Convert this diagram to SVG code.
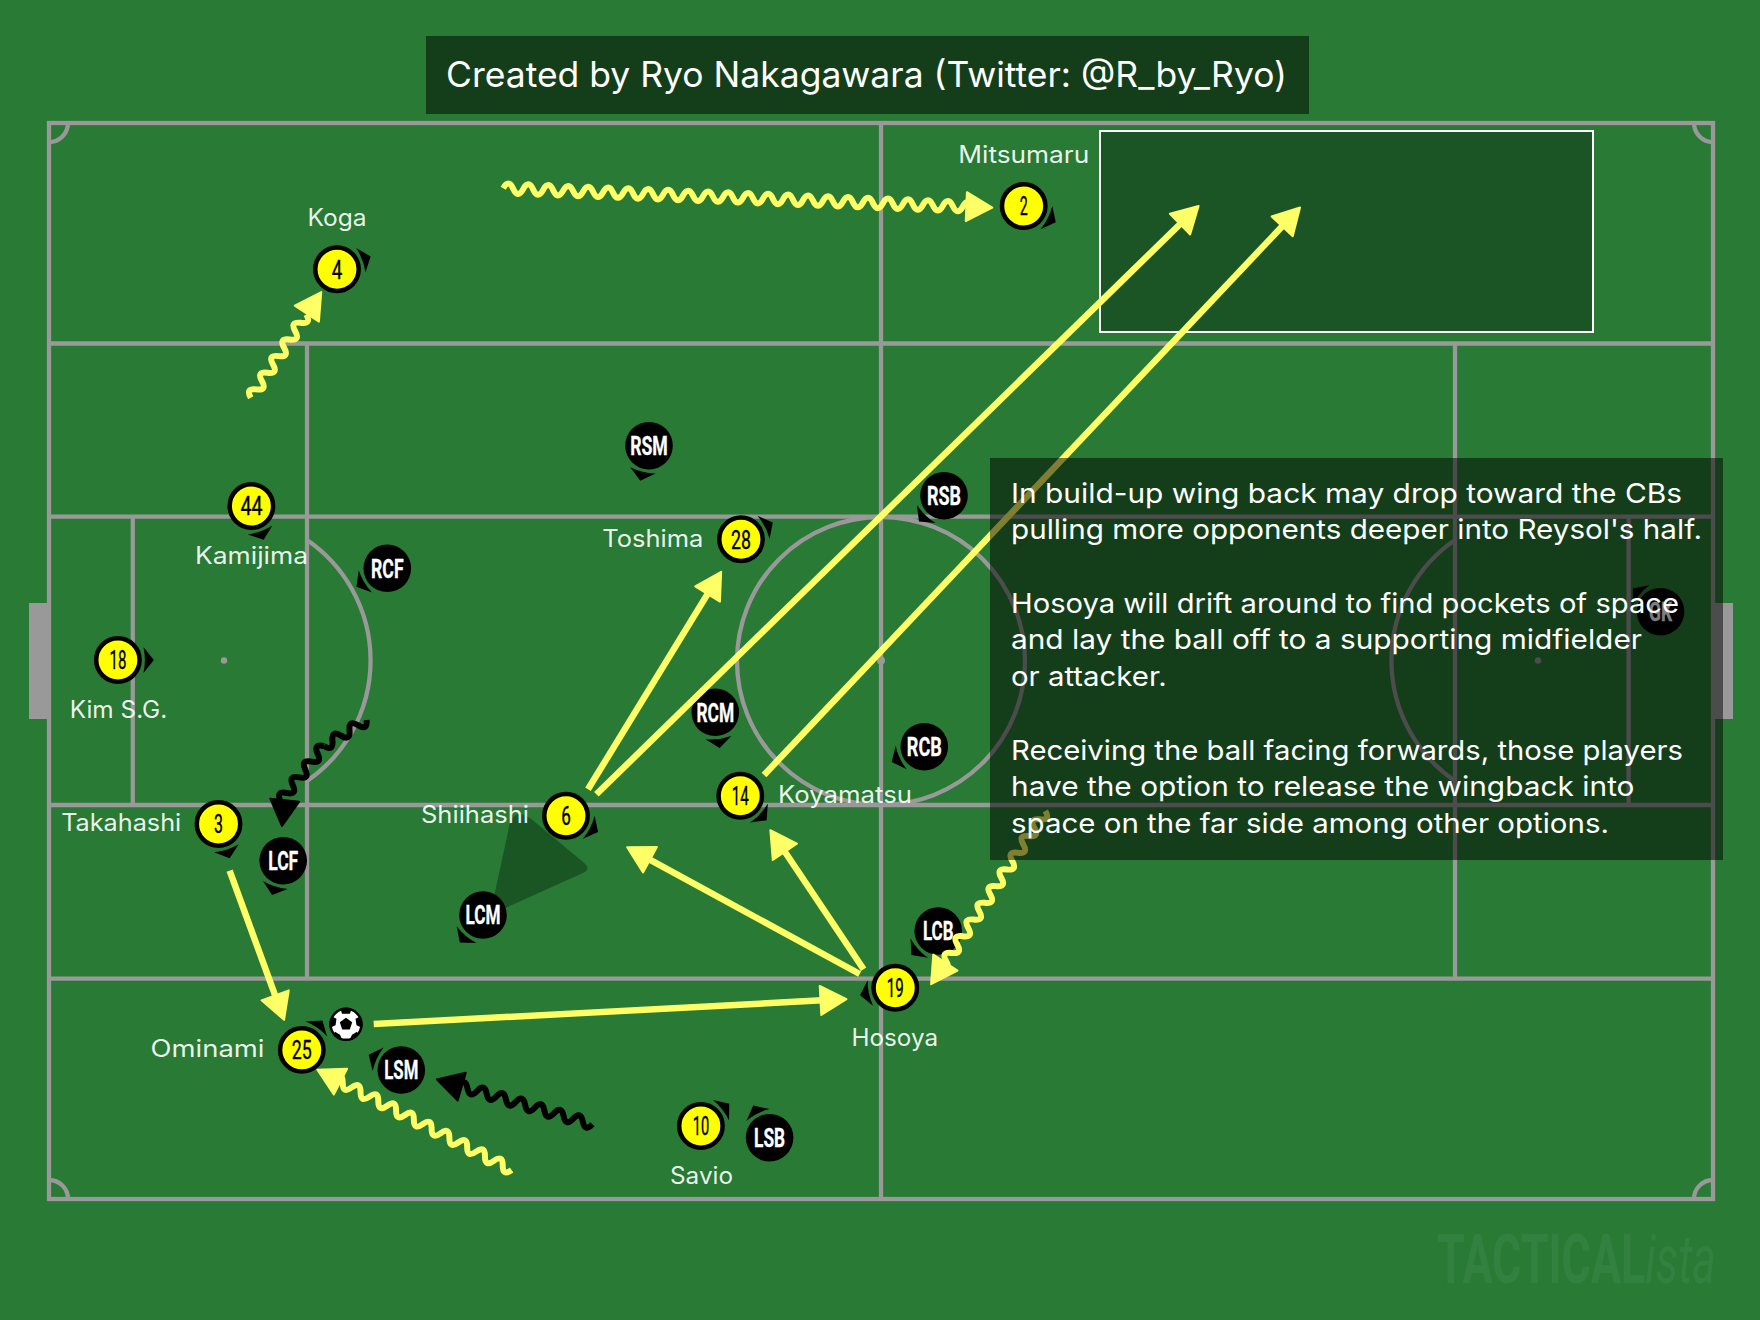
<svg xmlns="http://www.w3.org/2000/svg" width="1760" height="1320" viewBox="0 0 1760 1320">
<style>
.ln{fill:none;stroke:#999;stroke-width:4.3}
.gl{fill:#999}
.lab{font-family:Inter,"Liberation Sans",sans-serif;font-size:24px;fill:#fff;fill-opacity:.92}
.txt{font-family:Inter,"Liberation Sans",sans-serif;font-size:27.5px;fill:#fff}
.num{font-family:"Liberation Sans Narrow",Roboto,"Liberation Sans",sans-serif;font-size:26px;text-anchor:middle;fill:#000;stroke:#000;stroke-width:.35}
.opp{font-family:"Liberation Sans Narrow",Roboto,"Liberation Sans",sans-serif;font-size:26px;font-weight:700;text-anchor:middle;fill:#fff;stroke:#fff;stroke-width:.3}
.yc{fill:#ff0;stroke:#000;stroke-width:4.5}
.bc{fill:#000}
.st{stroke:#ff6;stroke-width:6.5;fill:none;marker-end:url(#ah)}
.wy{stroke:#ff6;stroke-width:6;fill:none}
.wb{stroke:#000;stroke-width:6;fill:none}
.hy{fill:#ff6;stroke:#ff6;stroke-width:2;stroke-linejoin:round}
.hb{fill:#000;stroke:#000;stroke-width:2;stroke-linejoin:round}
.wm{font-family:Roboto,"Liberation Sans",sans-serif;font-size:69px;fill:#fff;fill-opacity:.055}
</style>
<defs>
<path id="o" d="M25.5 -13L36 0L25.5 13Q28.5 0 25.5 -13Z" fill="#000"/>
<path id="hd" d="M-26 -14.5L0 0L-26 14.5Z"/>
<marker id="ah" markerUnits="userSpaceOnUse" markerWidth="40" markerHeight="40" viewBox="0 0 40 40" refX="9" refY="20" orient="auto">
<path d="M3 5.5L29 20L3 34.5Z" fill="#ff6" stroke="#ff6" stroke-width="2" stroke-linejoin="round"/>
</marker>
<clipPath id="bc"><circle cx="0" cy="0" r="16.5"/></clipPath>
</defs>
<rect id="bg" width="1760" height="1320" fill="#287a35"/>
<g id="pitch">
<rect class="gl" x="29" y="603" width="20" height="116"/>
<rect class="gl" x="1713" y="603" width="20" height="116"/>
<rect class="ln" x="49" y="123" width="1664" height="1076"/>
<path class="ln" d="M881 123V1199M49 343.5H1713M49 516.7H1713M49 805H1713M49 978.7H1713"/>
<path class="ln" d="M307 343.5V978.7M1455 343.5V978.7M132.8 516.7V805M1628.6 516.7V805"/>
<circle class="ln" cx="881" cy="661" r="144"/>
<path class="ln" d="M307 540A146 146 0 0 1 307 781M1455 540A146 146 0 0 0 1455 781"/>
<path class="ln" d="M49 142A19 19 0 0 0 68 123M1694 123A19 19 0 0 0 1713 142M49 1180A19 19 0 0 1 68 1199M1694 1199A19 19 0 0 1 1713 1180"/>
<circle class="gl" cx="224" cy="660.5" r="3.2"/>
<circle class="gl" cx="881" cy="660.5" r="4"/>
<circle class="gl" cx="1538" cy="660.5" r="3.2"/>
</g>
<text class="wm" font-weight="700" x="1437" y="1283" textLength="279" lengthAdjust="spacingAndGlyphs">TACTICAL<tspan font-style="italic" font-weight="400">ista</tspan></text>
<rect id="title-box" x="426" y="36" width="883" height="78" fill="#000" fill-opacity=".5"/>
<text id="title" x="446" y="86.5" font-family="Inter,'Liberation Sans',sans-serif" font-size="35" fill="#fff" textLength="841" lengthAdjust="spacingAndGlyphs">Created by Ryo Nakagawara (Twitter: @R_by_Ryo)</text>
<rect id="highlight" x="1100" y="131" width="493" height="201" fill="#000" fill-opacity=".3" stroke="#fff" stroke-width="2"/>
<path id="cover" d="M490 915L508 832Q511 806 530 818L583 862Q592 869 583 873Z" fill="#1a5623"/>
<g id="nodes">
<g id="n2" transform="translate(1023.7,206)"><use href="#o" transform="rotate(27)"/><circle class="yc" r="21.7"/><text class="num" y="9.3" textLength="8" lengthAdjust="spacingAndGlyphs">2</text></g>
<g id="n4" transform="translate(337,269.3)"><use href="#o" transform="rotate(-21)"/><circle class="yc" r="21.7"/><text class="num" y="9.3" textLength="10.5" lengthAdjust="spacingAndGlyphs">4</text></g>
<g id="n44" transform="translate(251.4,506)"><use href="#o" transform="rotate(70)"/><circle class="yc" r="21.7"/><text class="num" y="9.3" textLength="22" lengthAdjust="spacingAndGlyphs">44</text></g>
<g id="n18" transform="translate(117.9,660)"><use href="#o" transform="rotate(0)"/><circle class="yc" r="21.7"/><text class="num" y="9.3" textLength="17" lengthAdjust="spacingAndGlyphs">18</text></g>
<g id="n3" transform="translate(218.5,824)"><use href="#o" transform="rotate(72)"/><circle class="yc" r="21.7"/><text class="num" y="9.3" textLength="9" lengthAdjust="spacingAndGlyphs">3</text></g>
<g id="n6" transform="translate(566,815.7)"><use href="#o" transform="rotate(27)"/><circle class="yc" r="21.7"/><text class="num" y="9.3" textLength="9.6" lengthAdjust="spacingAndGlyphs">6</text></g>
<g id="n14" transform="translate(740.3,795.7)"><use href="#o" transform="rotate(43)"/><circle class="yc" r="21.7"/><text class="num" y="9.3" textLength="17" lengthAdjust="spacingAndGlyphs">14</text></g>
<g id="n19" transform="translate(895.3,987.7)"><use href="#o" transform="rotate(168)"/><circle class="yc" r="21.7"/><text class="num" y="9.3" textLength="17" lengthAdjust="spacingAndGlyphs">19</text></g>
<g id="n28" transform="translate(741,539.3)"><use href="#o" transform="rotate(-28)"/><circle class="yc" r="21.7"/><text class="num" y="9.3" textLength="20" lengthAdjust="spacingAndGlyphs">28</text></g>
<g id="n25" transform="translate(301.8,1049.9)"><use href="#o" transform="rotate(-55)"/><circle class="yc" r="21.7"/><text class="num" y="9.3" textLength="20" lengthAdjust="spacingAndGlyphs">25</text></g>
<g id="n10" transform="translate(700.9,1126)"><use href="#o" transform="rotate(-38)"/><circle class="yc" r="21.7"/><text class="num" y="9.3" textLength="16.5" lengthAdjust="spacingAndGlyphs">10</text></g>
<g id="RSM" transform="translate(649,445.7)"><use href="#o" transform="rotate(104)"/><circle class="bc" r="23.8"/><text class="opp" y="9.3" textLength="37.7" lengthAdjust="spacingAndGlyphs">RSM</text></g>
<g id="RSB" transform="translate(944,495.7)"><use href="#o" transform="rotate(134)"/><circle class="bc" r="23.8"/><text class="opp" y="9.3" textLength="34" lengthAdjust="spacingAndGlyphs">RSB</text></g>
<g id="RCM" transform="translate(715.3,712.3)"><use href="#o" transform="rotate(83)"/><circle class="bc" r="23.8"/><text class="opp" y="9.3" textLength="37.7" lengthAdjust="spacingAndGlyphs">RCM</text></g>
<g id="RCB" transform="translate(924.3,746.7)"><use href="#o" transform="rotate(155)"/><circle class="bc" r="23.8"/><text class="opp" y="9.3" textLength="35" lengthAdjust="spacingAndGlyphs">RCB</text></g>
<g id="RCF" transform="translate(387.3,568.3)"><use href="#o" transform="rotate(149)"/><circle class="bc" r="23.8"/><text class="opp" y="9.3" textLength="32.5" lengthAdjust="spacingAndGlyphs">RCF</text></g>
<g id="LCF" transform="translate(283.2,860.7)"><use href="#o" transform="rotate(108)"/><circle class="bc" r="23.8"/><text class="opp" y="9.3" textLength="30" lengthAdjust="spacingAndGlyphs">LCF</text></g>
<g id="LCM" transform="translate(483,915)"><use href="#o" transform="rotate(130)"/><circle class="bc" r="23.8"/><text class="opp" y="9.3" textLength="35" lengthAdjust="spacingAndGlyphs">LCM</text></g>
<g id="LSM" transform="translate(401.3,1070)"><use href="#o" transform="rotate(-155)"/><circle class="bc" r="23.8"/><text class="opp" y="9.3" textLength="34" lengthAdjust="spacingAndGlyphs">LSM</text></g>
<g id="LSB" transform="translate(769.6,1137.7)"><use href="#o" transform="rotate(-117)"/><circle class="bc" r="23.8"/><text class="opp" y="9.3" textLength="31" lengthAdjust="spacingAndGlyphs">LSB</text></g>
<g id="LCB" transform="translate(938.2,931)"><use href="#o" transform="rotate(138)"/><circle class="bc" r="23.8"/><text class="opp" y="9.3" textLength="30.6" lengthAdjust="spacingAndGlyphs">LCB</text></g>
<g id="GK" transform="translate(1660.5,611.7)"><use href="#o" transform="rotate(-140)"/><circle class="bc" r="23.8"/><text class="opp" y="9.3" textLength="23" lengthAdjust="spacingAndGlyphs">GK</text></g>
<g id="ball" transform="translate(346,1024.3)"><circle r="15.5" fill="#fff" stroke="#000" stroke-width="2.5"/><g clip-path="url(#bc)" fill="#000"><path d="M0 -6.5L6.2 -2L3.8 5.3L-3.8 5.3L-6.2 -2Z"/><path d="M-6 -17L6 -17L4 -10.5L-4 -10.5Z"/><path d="M17 -9L17 4L10.5 1L9.5 -5.5Z"/><path d="M14 14L3 17L6 10.5L11 7.5Z"/><path d="M-14 14L-3 17L-6 10.5L-11 7.5Z"/><path d="M-17 -9L-17 4L-10.5 1L-9.5 -5.5Z"/></g></g>
</g>
<g id="labels">
<text class="lab" text-anchor="middle" x="337" y="226" textLength="59" lengthAdjust="spacingAndGlyphs">Koga</text>
<text class="lab" x="958.3" y="162.7" textLength="131" lengthAdjust="spacingAndGlyphs">Mitsumaru</text>
<text class="lab" x="195" y="564" textLength="113" lengthAdjust="spacingAndGlyphs">Kamijima</text>
<text class="lab" x="69.7" y="717.7" textLength="97.6" lengthAdjust="spacingAndGlyphs">Kim S.G.</text>
<text class="lab" x="61.2" y="831" textLength="120" lengthAdjust="spacingAndGlyphs">Takahashi</text>
<text class="lab" x="421" y="822.7" textLength="108" lengthAdjust="spacingAndGlyphs">Shiihashi</text>
<text class="lab" x="602.3" y="546.7" textLength="101" lengthAdjust="spacingAndGlyphs">Toshima</text>
<text class="lab" x="778" y="803.3" textLength="134" lengthAdjust="spacingAndGlyphs">Koyamatsu</text>
<text class="lab" x="851.5" y="1045.7" textLength="86.5" lengthAdjust="spacingAndGlyphs">Hosoya</text>
<text class="lab" x="150.5" y="1057" textLength="114" lengthAdjust="spacingAndGlyphs">Ominami</text>
<text class="lab" x="670" y="1184" textLength="63" lengthAdjust="spacingAndGlyphs">Savio</text>
</g>
<g id="connectors">
<line class="st" x1="229.6" y1="870.7" x2="277.2" y2="1001"/>
<line class="st" x1="373.7" y1="1024" x2="826.5" y2="1000.1"/>
<line class="st" x1="859.7" y1="974" x2="644.7" y2="856.8"/>
<line class="st" x1="863.6" y1="969.3" x2="781.5" y2="846.8"/>
<line class="st" x1="588" y1="789.3" x2="710.7" y2="588.9"/>
<line class="st" x1="596.4" y1="794.3" x2="1184.3" y2="220"/>
<line class="st" x1="764" y1="775" x2="1286.3" y2="222"/>
<g transform="translate(503.2,188.3) rotate(2.27)"><path class="wy" d="M0 0q5 -10 10 0t10 0t10 0t10 0t10 0t10 0t10 0t10 0t10 0t10 0t10 0t10 0t10 0t10 0t10 0t10 0t10 0t10 0t10 0t10 0t10 0t10 0t10 0t10 0t10 0t10 0t10 0t10 0t10 0t10 0t10 0t10 0t10 0t10 0t10 0t10 0t10 0t10 0t10 0t10 0t10 0t10 0t10 0t10 0t10 0t10 0t10 0"/><use href="#hd" class="hy" x="489.5" y="0"/></g>
<g transform="translate(250.8,397.7) rotate(-56.3)"><path class="wy" d="M0 0q5 -10 10 0t10 0t10 0t10 0t10 0t10 0t10 0t10 0t10 0t10 0"/><use href="#hd" class="hy" x="127" y="0"/></g>
<g id="w-rcf"><path class="wb" transform="translate(366.6,720) rotate(148.6)" d="M0 0q5 -10 10 0t10 0t10 0t10 0t10 0"/><path class="wb" transform="translate(323.9,746) rotate(128.4)" d="M0 0q5 10 10 0t10 0t10 0t10 0t10 0t10 0t10 0"/></g>
<use href="#hd" class="hb" transform="translate(282,826) rotate(96)"/>
<g transform="translate(511.6,1170) rotate(-152.7)"><path class="wy" d="M0 0q5 -10 10 0t10 0t10 0t10 0t10 0t10 0t10 0t10 0t10 0t10 0t10 0t10 0t10 0t10 0t10 0t10 0t10 0t10 0t10 0t10 0"/><use href="#hd" class="hy" x="218.6" y="0"/></g>
<g transform="translate(592.4,1124.3) rotate(-163.9)"><path class="wb" d="M0 0q5 -10 10 0t10 0t10 0t10 0t10 0t10 0t10 0t10 0t10 0t10 0t10 0t10 0t10 0t10 0"/><use href="#hd" class="hb" x="162" y="0"/></g>
<g transform="translate(1045.3,811) rotate(123.4)"><path class="wy" d="M0 0q5 -10 10 0t10 0t10 0t10 0t10 0t10 0t10 0t10 0t10 0t10 0t10 0t10 0t10 0t10 0t10 0t10 0t10 0t10 0t10 0"/><use href="#hd" class="hy" x="207.5" y="0"/></g>
</g>
<g id="panel">
<rect x="990" y="458" width="733" height="402" fill="#000" fill-opacity=".5"/>
<text class="txt" x="1011" y="502.8" textLength="671" lengthAdjust="spacingAndGlyphs">In build-up wing back may drop toward the CBs</text>
<text class="txt" x="1011" y="539" textLength="691" lengthAdjust="spacingAndGlyphs">pulling more opponents deeper into Reysol's half.</text>
<text class="txt" x="1011" y="612.7" textLength="668" lengthAdjust="spacingAndGlyphs">Hosoya will drift around to find pockets of space</text>
<text class="txt" x="1011" y="648.7" textLength="631" lengthAdjust="spacingAndGlyphs">and lay the ball off to a supporting midfielder</text>
<text class="txt" x="1011" y="685.7" textLength="155.6" lengthAdjust="spacingAndGlyphs">or attacker.</text>
<text class="txt" x="1011" y="759.6" textLength="672" lengthAdjust="spacingAndGlyphs">Receiving the ball facing forwards, those players</text>
<text class="txt" x="1011" y="795.6" textLength="623.5" lengthAdjust="spacingAndGlyphs">have the option to release the wingback into</text>
<text class="txt" x="1011" y="832.6" textLength="598" lengthAdjust="spacingAndGlyphs">space on the far side among other options.</text>
</g>
</svg>
